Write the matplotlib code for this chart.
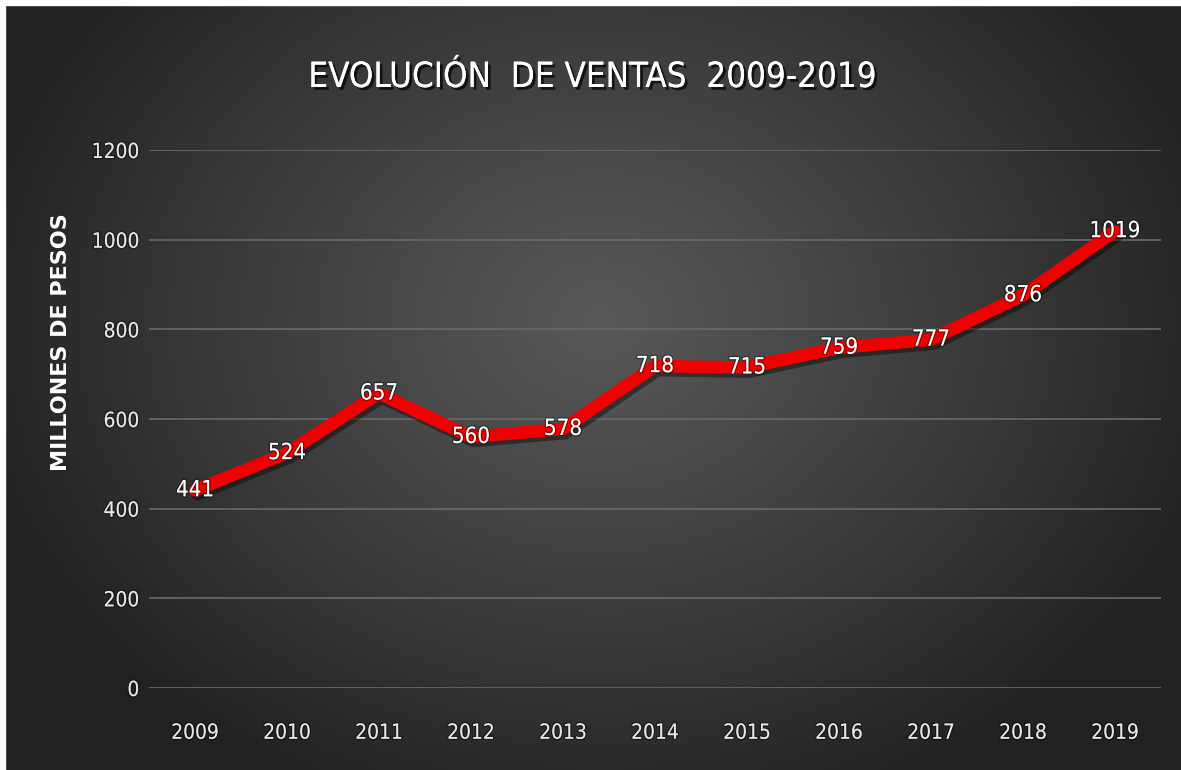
import numpy as np
import matplotlib
matplotlib.use("Agg")
import matplotlib.pyplot as plt
import matplotlib.patheffects as pe
from matplotlib import font_manager

years = ["2009", "2010", "2011", "2012", "2013", "2014", "2015", "2016", "2017", "2018", "2019"]
ventas = [441, 524, 657, 560, 578, 718, 715, 759, 777, 876, 1019]
yticks = [0, 200, 400, 600, 800, 1000, 1200]
title = "EVOLUCIÓN  DE VENTAS  2009-2019"
ylabel = "MILLONES DE PESOS"

cond = [f for f in font_manager.fontManager.ttflist if f.name == "DejaVu Sans" and "ondensed" in f.fname]
cond_reg = [f.fname for f in cond if "Bold" not in f.fname and "Oblique" not in f.fname]
if cond_reg:
    fp_num = font_manager.FontProperties(fname=cond_reg[0])
else:
    fp_num = font_manager.FontProperties(family="DejaVu Sans", stretch="condensed")
fp_title = fp_num.copy()

W, H = 1181, 770
fig = plt.figure(figsize=(W / 100, H / 100), dpi=100)

# radial gradient background
bg = fig.add_axes([0, 0, 1, 1])
yy, xx = np.mgrid[0:H, 0:W]
cx, cy = 600, 320
r = np.sqrt(((xx - cx) / 640.0) ** 2 + ((yy - cy) / 520.0) ** 2)
r = np.clip(r, 0, 1)
inner = np.array([0x58, 0x58, 0x58]) / 255.0
outer = np.array([0x22, 0x22, 0x22]) / 255.0
img = inner[None, None, :] * (1 - r[..., None] ** 1.1) + outer[None, None, :] * (r[..., None] ** 1.1)
bg.imshow(img, extent=[0, W, H, 0], aspect="auto", interpolation="bilinear")
bg.set_xlim(0, W)
bg.set_ylim(H, 0)
bg.axis("off")
bg.fill_between([0, W], 0, 5, color="white", zorder=5)
bg.fill_betweenx([0, H], 0, 5, color="white", zorder=5)

ax = fig.add_axes([149 / W, 1 - 688 / H, (1161 - 149) / W, (688 - 150) / H])
ax.set_facecolor("none")
x = np.arange(len(years))
ax.plot(x, ventas, color="#f00000", lw=9, solid_joinstyle="round", solid_capstyle="round",
        path_effects=[pe.SimpleLineShadow(offset=(2, -3), shadow_color="black", alpha=0.4), pe.Normal()],
        zorder=3)
for xi, v in zip(x, ventas):
    t = ax.text(xi, v, str(v), ha="center", va="center", color="white",
                fontproperties=fp_num, zorder=4,
                path_effects=[pe.withStroke(linewidth=2, foreground=(0, 0, 0, 0.35))])
    t.set_fontsize(16)

ax.set_xlim(-0.5, len(years) - 0.5)
ax.set_ylim(0, 1200)
ax.set_yticks(yticks)
ax.set_xticks(x)
ax.set_xticklabels(years)
ax.grid(axis="y", color="#6a6a6a", lw=1.2)
ax.set_axisbelow(True)
for s in ax.spines.values():
    s.set_visible(False)
ax.tick_params(length=0, colors="#e8e8e8")
ax.tick_params(axis="y", pad=7)
ax.tick_params(axis="x", pad=25)
for lab in ax.get_xticklabels() + ax.get_yticklabels():
    lab.set_fontproperties(fp_num)
    lab.set_fontsize(15)
    lab.set_path_effects([pe.withStroke(linewidth=2, foreground=(0, 0, 0, 0.35))])

fig.text(61 / W, 1 - 342 / H, ylabel, rotation=90, ha="center", va="center",
         color="white", fontsize=16, fontweight="bold", family="DejaVu Sans")

t = fig.text(593 / W, 1 - 77 / H, title, ha="center", va="center", color="white",
             fontproperties=fp_title,
             path_effects=[pe.withSimplePatchShadow(offset=(2, -2), shadow_rgbFace="black", alpha=0.7), pe.Normal()])
t.set_fontsize(25)

fig.savefig("out.png", dpi=100)
